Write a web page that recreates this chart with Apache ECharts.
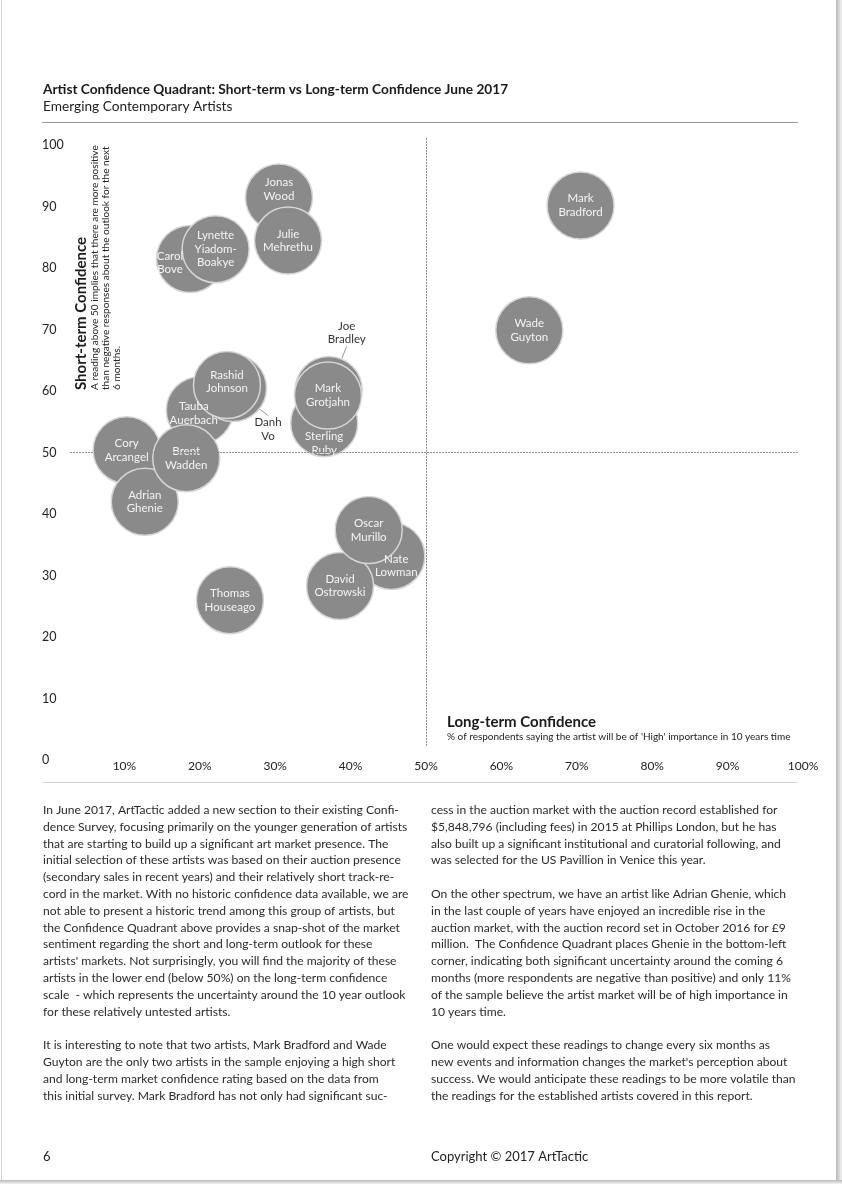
<!DOCTYPE html>
<html>
<head>
<meta charset="utf-8">
<script src="https://cdn.jsdelivr.net/npm/echarts@6/dist/echarts.min.js"></script>
<style>
html,body{margin:0;padding:0;background:#fff;}
#chart{width:842px;height:1184px;}
</style>
</head>
<body>
<div id="chart"></div>
<script>
// ---------- data (draw order: back to front) ----------
const artists = ['Carol Bove','Lynette Yiadom-Boakye','Jonas Wood','Julie Mehrethu','Tauba Auerbach','Danh Vo','Rashid Johnson','Cory Arcangel','Adrian Ghenie','Brent Wadden','Sterling Ruby','Joe Bradley','Mark Grotjahn','Nate Lowman','David Ostrowski','Oscar Murillo','Thomas Houseago','Mark Bradford','Wade Guyton'];
const bubbleLabels = ['Carol\nBove','Lynette\nYiadom-\nBoakye','Jonas\nWood','Julie\nMehrethu','Tauba\nAuerbach','Danh\nVo','Rashid\nJohnson','Cory\nArcangel','Adrian\nGhenie','Brent\nWadden','Sterling\nRuby','Joe\nBradley','Mark\nGrotjahn','Nate\nLowman','David\nOstrowski','Oscar\nMurillo','Thomas\nHouseago','Mark\nBradford','Wade\nGuyton'];
const longTerm  = [18.7, 22.1, 30.5, 31.7, 20.0, 24.4, 23.6, 10.3, 12.7, 18.2, 36.5, 37.1, 37.0, 45.4, 38.6, 42.4, 24.0, 70.5, 63.7];
const shortTerm = [81.5, 83.1, 91.5, 84.5, 56.9, 60.5, 61.0, 50.4, 42.0, 49.1, 54.8, 60.2, 59.3, 33.2, 28.3, 37.4, 26.0, 90.2, 69.9];
const xTickLabels = ['', '10%', '20%', '30%', '40%', '50%', '60%', '70%', '80%', '90%', '100%'];
const yTickLabels = ['0', '10', '20', '30', '40', '50', '60', '70', '80', '90', '100'];
const quadrantMid = 50;

// ---------- styling / label placement ----------
const labelShift = {
  'Carol Bove': [-20, 4],
  'Jonas Wood': [0, -8],
  'Tauba Auerbach': [-6, 3],
  'Danh Vo': [35, 41],
  'Rashid Johnson': [0, -3],
  'Sterling Ruby': [0, 20],
  'Joe Bradley': [18, -57],
  'Nate Lowman': [5, 10]
};
const outsideLabels = ['Danh Vo', 'Joe Bradley'];

const FONT = 'Lato, "Open Sans", sans-serif';
const leftText = [
"In June 2017, ArtTactic added a new section to their existing Confi-",
"dence Survey, focusing primarily on the younger generation of artists",
"that are starting to build up a significant art market presence. The",
"initial selection of these artists was based on their auction presence",
"(secondary sales in recent years) and their relatively short track-re-",
"cord in the market. With no historic confidence data available, we are",
"not able to present a historic trend among this group of artists, but",
"the Confidence Quadrant above provides a snap-shot of the market",
"sentiment regarding the short and long-term outlook for these",
"artists' markets. Not surprisingly, you will find the majority of these",
"artists in the lower end (below 50%) on the long-term confidence",
"scale  - which represents the uncertainty around the 10 year outlook",
"for these relatively untested artists.",
"",
"It is interesting to note that two artists, Mark Bradford and Wade",
"Guyton are the only two artists in the sample enjoying a high short",
"and long-term market confidence rating based on the data from",
"this initial survey. Mark Bradford has not only had significant suc-"
].join('\n');
const rightText = [
"cess in the auction market with the auction record established for",
"$5,848,796 (including fees) in 2015 at Phillips London, but he has",
"also built up a significant institutional and curatorial following, and",
"was selected for the US Pavillion in Venice this year.",
"",
"On the other spectrum, we have an artist like Adrian Ghenie, which",
"in the last couple of years have enjoyed an incredible rise in the",
"auction market, with the auction record set in October 2016 for £9",
"million.  The Confidence Quadrant places Ghenie in the bottom-left",
"corner, indicating both significant uncertainty around the coming 6",
"months (more respondents are negative than positive) and only 11%",
"of the sample believe the artist market will be of high importance in",
"10 years time.",
"",
"One would expect these readings to change every six months as",
"new events and information changes the market's perception about",
"success. We would anticipate these readings to be more volatile than",
"the readings for the established artists covered in this report."
].join('\n');

const chart = echarts.init(document.getElementById('chart'), null, {renderer: 'canvas'});

const seriesData = artists.map((n, i) => {
  const item = { name: n, value: [longTerm[i], shortTerm[i]] };
  if (outsideLabels.includes(n)) {
    item.label = { color: '#333' };
    item.labelLine = { show: true, lineStyle: { color: '#777', width: 0.8 } };
  }
  return item;
});

const option = {
  backgroundColor: '#ffffff',
  animation: false,
  grid: { left: 49, right: 39, top: 133, bottom: 424 },
  xAxis: {
    type: 'value', min: 0, max: 100, interval: 10,
    axisLine: { show: false }, axisTick: { show: false }, splitLine: { show: false },
    axisLabel: {
      margin: 0, color: '#222', fontFamily: FONT, fontSize: 12,
      formatter: v => { const k = Math.round(v / 10); return (Math.abs(v - k * 10) < 1e-6 && xTickLabels[k] !== undefined) ? xTickLabels[k] : ''; }
    }
  },
  yAxis: {
    type: 'value', min: 0, max: 102, interval: 10,
    axisLine: { show: false }, axisTick: { show: false }, splitLine: { show: false },
    axisLabel: {
      margin: 7, align: 'left', color: '#222', fontFamily: FONT, fontSize: 12.5,
      formatter: v => { const k = Math.round(v / 10); return (Math.abs(v - k * 10) < 1e-6 && yTickLabels[k] !== undefined) ? yTickLabels[k] : ''; }
    }
  },
  series: [
    {
      type: 'scatter', z: 1, silent: true, data: [],
      markLine: {
        silent: true, symbol: 'none', label: { show: false },
        lineStyle: { color: '#8a8a8a', width: 1, type: [2, 1] },
        data: [
          [{ coord: [2.8, quadrantMid] }, { coord: [99.3, quadrantMid] }],
          [{ coord: [quadrantMid, 2.3] }, { coord: [quadrantMid, 101.3] }]
        ]
      }
    },
    {
      type: 'scatter', z: 3, silent: true,
      symbol: 'circle', symbolSize: 67,
      itemStyle: { color: '#8a8a8a', borderColor: '#d6d6d6', borderWidth: 1.5, opacity: 1 },
      label: {
        show: true, position: 'inside', color: '#f4f4f4', fontFamily: FONT, fontSize: 11.5,
        lineHeight: 13.5, align: 'center',
        formatter: p => bubbleLabels[p.dataIndex]
      },
      labelLayout: p => { const s = labelShift[artists[p.dataIndex]]; return s ? { dx: s[0], dy: s[1] } : {}; },
      emphasis: { disabled: true },
      data: seriesData
    }
  ],
  graphic: [
    // page frame
    { type: 'rect', z: -10, silent: true, shape: { x: 836, y: 0, width: 6, height: 1184 },
      style: { fill: new echarts.graphic.LinearGradient(0, 0, 1, 0, [{ offset: 0, color: '#b8b8b8' }, { offset: 1, color: '#f2f2f2' }]) } },
    { type: 'rect', z: -10, silent: true, shape: { x: 0, y: 1180, width: 842, height: 4 },
      style: { fill: new echarts.graphic.LinearGradient(0, 0, 0, 1, [{ offset: 0, color: '#b8b8b8' }, { offset: 1, color: '#f2f2f2' }]) } },
    { type: 'line', silent: true, shape: { x1: 1.5, y1: 0, x2: 1.5, y2: 1180 }, style: { stroke: '#cfcfcf', lineWidth: 1 } },
    // header
    { type: 'text', silent: true, x: 43, y: 90, style: { text: 'Artist Confidence Quadrant: Short-term vs Long-term Confidence June 2017', font: 'bold 13.7px ' + FONT, fill: '#1a1a1a', textVerticalAlign: 'middle' } },
    { type: 'text', silent: true, x: 43, y: 107, style: { text: 'Emerging Contemporary Artists', font: '13.7px ' + FONT, fill: '#222', textVerticalAlign: 'middle' } },
    { type: 'line', silent: true, shape: { x1: 42, y1: 122.5, x2: 798, y2: 122.5 }, style: { stroke: '#9a9a9a', lineWidth: 1 } },
    // y-axis titles (rotated)
    { type: 'text', silent: true, x: 81, y: 390, rotation: Math.PI / 2,
      style: { text: 'Short-term Confidence', font: 'bold 15px ' + FONT, fill: '#1a1a1a', textAlign: 'left', textVerticalAlign: 'middle' } },
    { type: 'text', silent: true, x: 89.5, y: 390, rotation: Math.PI / 2,
      style: { text: 'A reading above 50 implies that there are more positive\nthan negative responses about the outlook for the next\n6 months.', font: '10.1px ' + FONT, lineHeight: 11, fill: '#222', textAlign: 'left', textVerticalAlign: 'top' } },
    // x-axis titles
    { type: 'text', silent: true, x: 447, y: 722, style: { text: 'Long-term Confidence', font: 'bold 15px ' + FONT, fill: '#1a1a1a', textVerticalAlign: 'middle' } },
    { type: 'text', silent: true, x: 447, y: 737, style: { text: "% of respondents saying the artist will be of 'High' importance in 10 years time", font: '10px ' + FONT, fill: '#222', textVerticalAlign: 'middle' } },
    // separator
    { type: 'line', silent: true, shape: { x1: 43, y1: 782.5, x2: 797, y2: 782.5 }, style: { stroke: '#d0d0d0', lineWidth: 1 } },
    // body text
    { type: 'text', silent: true, x: 43, y: 801.6, style: { text: leftText, font: '12.1px ' + FONT, lineHeight: 16.8, fill: '#2a2a2a', textVerticalAlign: 'top' } },
    { type: 'text', silent: true, x: 431, y: 801.6, style: { text: rightText, font: '12.1px ' + FONT, lineHeight: 16.8, fill: '#2a2a2a', textVerticalAlign: 'top' } },
    // footer
    { type: 'text', silent: true, x: 43, y: 1157, style: { text: '6', font: '13px ' + FONT, fill: '#222', textVerticalAlign: 'middle' } },
    { type: 'text', silent: true, x: 431, y: 1157, style: { text: 'Copyright © 2017 ArtTactic', font: '13px ' + FONT, fill: '#222', textVerticalAlign: 'middle' } }
  ]
};
chart.setOption(option);
</script>
</body>
</html>
